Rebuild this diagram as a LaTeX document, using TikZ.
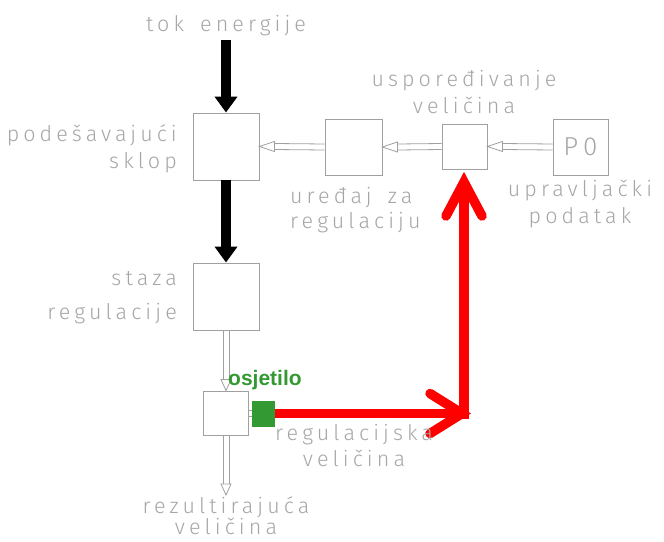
\documentclass[tikz,border=0pt]{standalone}
\usepackage{fontspec}
\setmainfont{Liberation Sans}
\newfontfamily\cadfont{Fira Sans Light}[LetterSpace=19, WordSpace=1.6]
\usetikzlibrary{arrows.meta,calc}

\definecolor{linegray}{HTML}{A0A0A0}
\definecolor{textgray}{HTML}{A6A6A6}
\definecolor{sensgreen}{HTML}{339933}
\definecolor{sigred}{HTML}{FF0000}

% open double-line arrows (leftward and downward), tip at #2
\newcommand\dblleft[2]{%
  \draw[dbl] ($(#1)+(0,-3)$) -- ($(#2)+(15,-3)$) ($(#1)+(0,3)$) -- ($(#2)+(15,3)$);
  \draw[dbl] (#2) -- ++(15,-5) -- ++(0,10) -- cycle;}
\newcommand\dbldown[2]{%
  \draw[dbl] ($(#1)+(-3,0)$) -- ($(#2)+(-3,-11)$) ($(#1)+(3,0)$) -- ($(#2)+(3,-11)$);
  \draw[dbl] (#2) -- ++(-5,-11) -- ++(10,0) -- cycle;}

\begin{document}
\begin{tikzpicture}[x=1pt,y=-1pt,
  block/.style={draw=linegray, line width=0.9pt, fill=white, inner sep=0pt},
  dbl/.style={draw=linegray, line width=0.8pt, fill=white},
  lbl/.style={text=textgray, inner sep=0pt, font=\cadfont\fontsize{21.5}{25}\selectfont},
  power/.style={line width=10pt, -{Triangle[length=16pt,width=22pt]}},
  sig/.style={draw=sigred, line width=9.5pt},
  sigtip/.style={draw=sigred, line width=9.5pt, line cap=round, line join=miter}]
\useasboundingbox (0,0) rectangle (664,541);

% blocks
\node[block, minimum width=66pt, minimum height=67pt] (sklop) at (226,146.5) {};
\node[block, minimum width=66pt, minimum height=67pt] (staza) at (226,296.5) {};
\node[block, minimum width=45pt, minimum height=44pt] (mjer) at (226,413) {};
\node[block, minimum width=57pt, minimum height=56pt] (ureg) at (353.5,147) {};
\node[block, minimum width=45pt, minimum height=45pt] (usp) at (464.5,146.5) {};
\node[block, minimum width=55pt, minimum height=56pt, text=textgray,
      font=\cadfont\fontsize{26}{30}\selectfont] (po) at (580.5,147) {P0};
\node[fill=sensgreen, minimum width=23pt, minimum height=26pt, inner sep=0pt] (osj) at (263.5,413.5) {};

% energy flow
\coordinate (src) at (226,40);
\draw[power] (src) -- (sklop.north);
\draw[power] (sklop.south) -- (staza.north);

% information flow
\dblleft{po.west}{usp.east}
\dblleft{usp.west}{ureg.east}
\dblleft{ureg.west}{sklop.east}
\dbldown{staza.south}{mjer.north}
\coordinate (izlaz) at (226,495);
\dbldown{mjer.south}{izlaz}
\draw[dbl] ($(mjer.east)+(0,-3)$) -- ($(osj.west)+(0,-3.5)$)
           ($(mjer.east)+(0,3)$) -- ($(osj.west)+(0,2.5)$);

% feedback of the controlled variable
\coordinate (hv) at (462,413.5);
\coordinate (vv) at (464,182);
\draw[sig] (osj.east) -- (hv);
\draw[sig] (464,419) -- (vv);
\draw[sigtip] ($(hv)+(-32,-20)$) -- (hv) -- ($(hv)+(-32,20)$);
\draw[sigtip] ($(vv)+(-18,34)$) -- (vv) -- ($(vv)+(18,34)$);

% labels
\node[lbl, anchor=base] at (226,31.5) {tok energije};
\node[lbl, anchor=base east] at (177,141.5) {podešavajući};
\node[lbl, anchor=base east] at (177,168) {sklop};
\node[lbl, anchor=base east] at (177,285.5) {staza};
\node[lbl, anchor=base east] at (177,319) {regulacije};
\node[lbl, anchor=base west] at (290,203) {uređaj za};
\node[lbl, anchor=base west] at (290,228) {regulaciju};
\node[lbl, anchor=base] at (464,86.5) {uspoređivanje};
\node[lbl, anchor=base] at (464,113) {veličina};
\node[lbl, anchor=base] at (580,196.5) {upravljački};
\node[lbl, anchor=base] at (580,223) {podatak};
\node[lbl, anchor=base west] at (275,440) {regulacijska};
\node[lbl, anchor=base] at (354,466) {veličina};
\node[lbl, anchor=base] at (226,513) {rezultirajuća};
\node[lbl, anchor=base] at (226,534) {veličina};
\node[text=sensgreen, inner sep=0pt, anchor=base west,
      font=\bfseries\fontsize{21}{25}\selectfont] at (228,385) {osjetilo};
\end{tikzpicture}
\end{document}
